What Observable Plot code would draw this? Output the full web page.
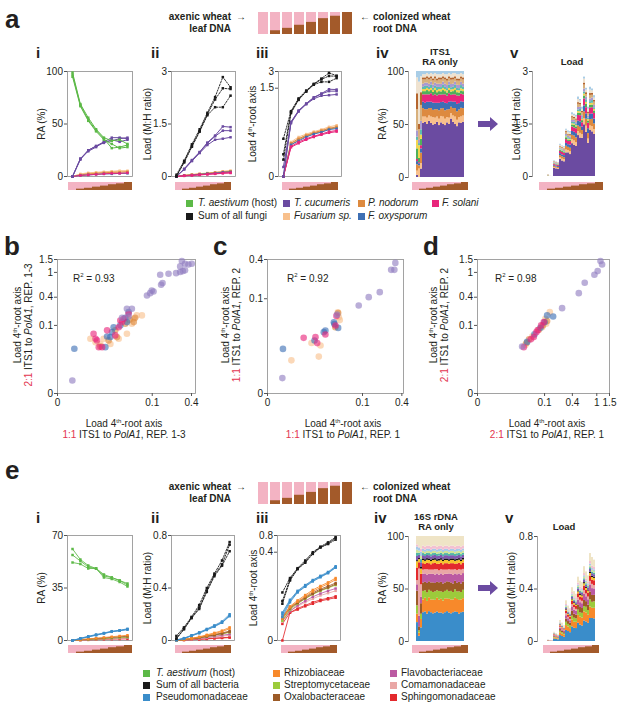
<!DOCTYPE html>
<html>
<head>
<meta charset="utf-8">
<script src="https://cdn.jsdelivr.net/npm/d3@7"></script>
<script src="https://cdn.jsdelivr.net/npm/@observablehq/plot@0.6"></script>
<style>
html,body{margin:0;padding:0;background:#fff;}
#root{position:relative;width:617px;height:703px;overflow:hidden;font-family:"Liberation Sans",Arial,Helvetica,sans-serif;color:#231f20;}
#root svg{position:absolute;overflow:visible;}
.tx{position:absolute;white-space:nowrap;line-height:1;}
.sq{position:absolute;width:7px;height:7px;}
.sup{font-size:6px;vertical-align:4px;}
.red{color:#e3344f;}
</style>
</head>
<body>
<div id="root"></div>
<script>
// ================= DATA =================
// DNA mixes (axenic leaf -> colonized root), fraction of root DNA
const mixSteps = [0, 1, 2, 3, 4, 5, 6, 7];
const mixBrown = [0, 0.17, 0.28, 0.42, 0.55, 0.72, 0.83, 1.0];

// ---- Panel a : fungi (3 replicates where visible) ----
const aHostRA = [[99, 69, 56, 45, 37, 34, 35, 31], [95, 67, 53, 43, 35, 31, 27, 28], [97, 68, 54, 44, 36, 27, 28, 30]];
const aCucRA = [[0, 17, 25, 29, 33, 37, 37, 36], [0, 17, 24, 28, 33, 34, 36, 37], [0, 16, 25, 29, 32, 35, 33, 35]];
const aFusRA = [[0, 2.5, 3.5, 4, 4.5, 5, 5.5, 5.5], [0, 2, 3, 3.5, 4, 4.5, 5, 5]];
const aNodRA = [[0, 1.5, 2.5, 3, 3.5, 4, 4, 4.5]];
const aOxyRA = [[0, 1, 1.5, 2, 2.5, 2.5, 3, 3]];
const aSolRA = [[0, 1, 1.5, 2, 2.5, 3, 3, 3.5]];

const aSumLoad = [[0.05, 0.45, 0.92, 1.35, 1.82, 2.27, 2.84, 2.55], [0.006, 0.42, 0.87, 1.3, 1.78, 2.2, 2.52, 2.5], [0.002, 0.4, 0.85, 1.28, 1.75, 1.98, 1.98, 2.31]];
const aCucLoad = [[0, 0.22, 0.47, 0.7, 0.97, 1.17, 1.43, 1.41], [0, 0.21, 0.45, 0.69, 0.95, 1.15, 1.31, 1.31], [0.0002, 0.2, 0.44, 0.67, 0.9, 1.05, 1.08, 1.12]];
const aFusLoad = [[0, 0.035, 0.06, 0.08, 0.1, 0.12, 0.15, 0.17], [0, 0.03, 0.05, 0.075, 0.09, 0.11, 0.14, 0.15]];
const aNodLoad = [[0, 0.03, 0.05, 0.07, 0.09, 0.11, 0.13, 0.15], [0, 0.025, 0.045, 0.065, 0.085, 0.1, 0.125, 0.14]];
const aOxyLoad = [[0, 0.025, 0.04, 0.06, 0.08, 0.095, 0.12, 0.13]];
const aSolLoad = [[0, 0.02, 0.035, 0.05, 0.065, 0.08, 0.1, 0.11], [0, 0.018, 0.03, 0.045, 0.06, 0.075, 0.09, 0.1]];

// a iv : ITS1 relative abundance, 24 samples (8 mixes x 3 reps)
const aIvCuc = [2, 0, 8, 51, 52, 50, 53, 51, 50, 50, 52, 49, 51, 50, 49, 51, 50, 54, 52, 50, 48, 51, 50, 52];
const aIvFus = [4, 8, 5, 6, 5, 6, 5, 6, 7, 6, 5, 6, 6, 7, 6, 5, 6, 5, 6, 7, 6, 5, 6, 6];
const aIvNod = [6, 3, 10, 8, 7, 8, 7, 8, 7, 8, 7, 8, 7, 8, 8, 7, 8, 6, 7, 8, 8, 7, 8, 7];
const aIvOxy = [3, 2, 4, 6, 6, 7, 6, 6, 7, 6, 6, 7, 6, 6, 7, 6, 7, 5, 6, 6, 7, 6, 6, 6];
const aIvSol = [2, 1, 3, 7, 8, 7, 7, 8, 7, 8, 7, 8, 7, 7, 8, 7, 8, 6, 7, 7, 8, 7, 7, 7];
const aIvOtherGreen = [10, 4, 6, 3, 3, 4, 3, 3, 3, 4, 3, 3, 3, 4, 3, 3, 3, 3, 3, 4, 3, 3, 3, 3];
const aIvOtherYellow = [8, 12, 4, 2, 2, 2, 2, 2, 2, 2, 2, 2, 2, 2, 2, 2, 2, 2, 2, 2, 2, 2, 2, 2];
const aIvOtherTeal = [3, 2, 5, 2, 3, 2, 2, 3, 2, 2, 3, 2, 2, 3, 2, 2, 3, 2, 2, 3, 2, 2, 3, 2];
const aIvOtherLav = [6, 3, 8, 3, 3, 3, 3, 3, 3, 3, 3, 3, 3, 3, 3, 3, 3, 3, 3, 3, 3, 3, 3, 3];
const aIvOtherTan = [20, 10, 15, 4, 3, 4, 4, 3, 4, 4, 3, 4, 4, 3, 4, 4, 3, 4, 4, 3, 4, 4, 3, 4];
const aIvOtherRust = [15, 5, 12, 2, 2, 2, 2, 2, 2, 2, 2, 2, 2, 2, 2, 2, 2, 2, 2, 2, 2, 2, 2, 2];
const aIvOtherBeige = [15, 40, 15, 3, 3, 3, 3, 3, 4, 3, 4, 3, 3, 3, 3, 4, 3, 3, 4, 3, 4, 4, 3, 3];
const aIvOtherBlue = [6, 10, 5, 3, 3, 2, 3, 2, 3, 2, 3, 3, 3, 2, 3, 3, 2, 3, 2, 2, 3, 3, 2, 3];

// ---- Panels b-d : load, ITS1 to PolA1 ratios [x, y] ----
const bCuc = [[0.00006, 0.00013], [0.0288, 0.24], [0.038, 0.24], [0.0317, 0.164], [0.0215, 0.153], [0.0795, 0.43], [0.0915, 0.472], [0.1056, 0.505], [0.098, 0.524], [0.143, 0.65], [0.151, 0.692], [0.138, 0.926], [0.1886, 0.957], [0.2456, 0.976], [0.281, 1.012], [0.306, 1.045], [0.328, 1.07], [0.281, 1.215], [0.2966, 1.432], [0.328, 1.32], [0.3645, 1.291], [0.403, 1.32]];
const bFus = [[0.00145, 0.042], [0.0026, 0.032], [0.0042, 0.028], [0.0097, 0.028], [0.0174, 0.042], [0.0288, 0.059], [0.042, 0.145], [0.049, 0.173], [0.063, 0.173], [0.038, 0.11], [0.0056, 0.042]];
const bNod = [[0.0042, 0.0227], [0.0085, 0.037], [0.0138, 0.074], [0.0262, 0.11], [0.0335, 0.1375], [0.042, 0.121], [0.045, 0.153], [0.0155, 0.047]];
const bOxy = [[0.0001, 0.0186], [0.0065, 0.0215], [0.0075, 0.049], [0.0109, 0.066], [0.0123, 0.09], [0.0193, 0.1], [0.0262, 0.153], [0.0288, 0.121], [0.0317, 0.204], [0.0097, 0.047]];
const bSol = [[0.0021, 0.059], [0.0026, 0.042], [0.003, 0.037], [0.0036, 0.0215], [0.0049, 0.0215], [0.0075, 0.074], [0.0138, 0.053], [0.0174, 0.09], [0.0215, 0.121], [0.0238, 0.145], [0.0317, 0.188], [0.0193, 0.132]];

const cCuc = [[0.00006, 0.00007], [0.085, 0.0743], [0.129, 0.107], [0.195, 0.131], [0.287, 0.29], [0.318, 0.29], [0.328, 0.361], [0.0288, 0.048]];
const cFus = [[0.0004, 0.0015], [0.0046, 0.0081], [0.0085, 0.0023], [0.0097, 0.0066], [0.0317, 0.042], [0.0335, 0.036], [0.03, 0.054]];
const cNod = [[0.026, 0.024], [0.0306, 0.052]];
const cOxy = [[0.00007, 0.0049], [0.0123, 0.0176], [0.0138, 0.0196], [0.006, 0.0098], [0.0238, 0.032], [0.0245, 0.029], [0.0306, 0.023]];
const cSol = [[0.0021, 0.0119], [0.0065, 0.0125], [0.0075, 0.008], [0.0138, 0.015], [0.0262, 0.0265], [0.0277, 0.045]];

const dCuc = [[1.13, 1.432], [1.19, 1.29], [1.03, 1.045], [0.923, 0.926], [0.653, 0.7], [0.52, 0.472], [0.253, 0.247], [0.0196, 0.0227]];
const dFus = [[0.026, 0.026], [0.086, 0.09], [0.135, 0.204], [0.105, 0.145], [0.045, 0.05], [0.11, 0.11]];
const dNod = [[0.0284, 0.03], [0.07, 0.0766], [0.116, 0.128], [0.035, 0.04], [0.09, 0.1]];
const dOxy = [[0.052, 0.0567], [0.0777, 0.087], [0.116, 0.173], [0.1616, 0.164], [0.1, 0.12], [0.03, 0.033]];
const dSol = [[0.0227, 0.0215], [0.0496, 0.047], [0.0596, 0.066], [0.081, 0.1], [0.0955, 0.121], [0.04, 0.04], [0.065, 0.075]];

// ---- Panel e : bacteria ----
const eHostRA = [[61, 54, 50, 48, 44, 42, 40, 38], [57, 53, 49, 48, 43, 42, 40, 37], [52, 51, 48, 48, 42, 41, 39, 36]];
const ePseudoRA = [[0, 1.5, 2.8, 4, 5, 6.2, 6.8, 7.8], [0, 1.3, 2.5, 3.7, 4.8, 6, 6.5, 7.5], [0, 1.2, 2.4, 3.5, 4.6, 5.8, 6.6, 7.2]];
const eRhizoRA = [[0, 0.6, 1.1, 1.5, 2, 2.5, 3, 3.5]];
const eStrepRA = [[0, 0.4, 0.7, 1, 1.3, 1.6, 1.9, 2.2]];
const eOxaloRA = [[0, 0.5, 0.9, 1.3, 1.7, 2.1, 2.5, 2.8]];
const eFlavoRA = [[0, 0.4, 0.7, 1, 1.3, 1.5, 1.8, 2]];
const eComamRA = [[0, 0.3, 0.6, 0.9, 1.1, 1.4, 1.6, 1.8]];
const eSphingoRA = [[0, 0.2, 0.4, 0.6, 0.8, 0.9, 1, 1.1]];

const eSumLoad = [[0.035, 0.1, 0.18, 0.27, 0.4, 0.51, 0.61, 0.75], [0.016, 0.09, 0.175, 0.25, 0.38, 0.5, 0.58, 0.73], [0.012, 0.085, 0.17, 0.24, 0.37, 0.49, 0.57, 0.68]];
const ePseudoLoad = [[0.004, 0.018, 0.04, 0.062, 0.088, 0.115, 0.145, 0.2], [0.003, 0.016, 0.037, 0.058, 0.084, 0.11, 0.138, 0.19], [0.002, 0.014, 0.035, 0.055, 0.08, 0.105, 0.135, 0.185]];
const eRhizoLoad = [[0.002, 0.009, 0.017, 0.028, 0.043, 0.058, 0.075, 0.1], [0.0015, 0.008, 0.015, 0.025, 0.038, 0.052, 0.068, 0.09]];
const eStrepLoad = [[0.001, 0.006, 0.012, 0.02, 0.03, 0.04, 0.05, 0.062]];
const eOxaloLoad = [[0.002, 0.008, 0.014, 0.023, 0.034, 0.046, 0.057, 0.072], [0.0015, 0.007, 0.013, 0.021, 0.031, 0.042, 0.052, 0.066]];
const eFlavoLoad = [[0.001, 0.005, 0.01, 0.016, 0.024, 0.032, 0.04, 0.048]];
const eComamLoad = [[0.0008, 0.005, 0.009, 0.014, 0.02, 0.027, 0.033, 0.04]];
const eSphingoLoad = [[0, 0.004, 0.007, 0.01, 0.014, 0.018, 0.021, 0.025], [0.0005, 0.004, 0.006, 0.009, 0.012, 0.016, 0.019, 0.022]];

// e iv : 16S relative abundance, 24 samples
const eIvPseudo = [18, 5, 13, 27, 28, 26, 28, 27, 26, 27, 28, 26, 27, 26, 27, 28, 27, 26, 27, 28, 27, 26, 27, 28];
const eIvRhizo = [8, 3, 8, 12, 13, 12, 13, 12, 13, 12, 13, 12, 13, 12, 13, 12, 13, 13, 12, 13, 12, 13, 12, 13];
const eIvStrep = [8, 2, 5, 8, 7, 8, 7, 8, 7, 8, 7, 8, 7, 8, 7, 8, 7, 8, 7, 8, 7, 8, 7, 8];
const eIvOxalo = [14, 4, 10, 8, 8, 9, 8, 8, 9, 8, 8, 8, 9, 8, 8, 8, 9, 8, 8, 8, 8, 9, 8, 8];
const eIvFlavo = [6, 10, 6, 8, 8, 8, 7, 8, 8, 8, 8, 7, 8, 8, 8, 7, 8, 8, 8, 7, 8, 8, 8, 8];
const eIvComam = [4, 45, 12, 4, 4, 5, 4, 4, 4, 5, 4, 4, 4, 5, 4, 4, 4, 4, 5, 4, 4, 4, 5, 4];
const eIvSphingo = [12, 6, 10, 6, 5, 6, 6, 5, 6, 6, 5, 6, 6, 5, 6, 6, 5, 6, 6, 5, 6, 6, 5, 6];
const eIvOtherYellow = [6, 3, 5, 3, 3, 3, 3, 3, 3, 3, 3, 3, 3, 3, 3, 3, 3, 3, 3, 3, 3, 3, 3, 3];
const eIvOtherBlack = [1, 1, 2, 1.5, 1.5, 1.5, 1.5, 1.5, 1.5, 1.5, 1.5, 1.5, 1.5, 1.5, 1.5, 1.5, 1.5, 1.5, 1.5, 1.5, 1.5, 1.5, 1.5, 1.5];
const eIvOtherPurple = [4, 3, 4, 3, 3, 3, 3, 3, 3, 3, 3, 3, 3, 3, 3, 3, 3, 3, 3, 3, 3, 3, 3, 3];
const eIvOtherTeal = [3, 2, 3, 2, 2, 2, 2, 2, 2, 2, 2, 2, 2, 2, 2, 2, 2, 2, 2, 2, 2, 2, 2, 2];
const eIvOtherLime = [3, 2, 3, 2, 2, 2, 2, 2, 2, 2, 2, 2, 2, 2, 2, 2, 2, 2, 2, 2, 2, 2, 2, 2];
const eIvOtherBlue = [3, 3, 4, 2, 2, 2, 2, 2, 2, 2, 2, 2, 2, 2, 2, 2, 2, 2, 2, 2, 2, 2, 2, 2];
const eIvOtherPink = [2, 1, 3, 3, 3, 3, 3, 3, 3, 3, 3, 3, 3, 3, 3, 3, 3, 3, 3, 3, 3, 3, 3, 3];
const eIvOtherBeige = [8, 10, 12, 9, 10, 9, 9, 10, 9, 9, 10, 9, 9, 10, 9, 9, 10, 9, 9, 10, 9, 9, 10, 9];
// e v : stacked load totals per replicate (8 mixes)
const eStackTotal = [[0.01, 0.07, 0.16, 0.31, 0.41, 0.49, 0.57, 0.67], [0.008, 0.06, 0.14, 0.27, 0.38, 0.46, 0.53, 0.64], [0.005, 0.05, 0.12, 0.25, 0.36, 0.45, 0.5, 0.62]];

// ================= COLOURS =================
const pinkDNA = "#f3b3c3", brownDNA = "#a35a2a";
const colHost = "#5cb947", colSum = "#1a1a1a", colCuc = "#6b4ba1", colFus = "#f8c08c",
      colNod = "#dd8a3f", colOxy = "#3d6fb4", colSol = "#e8257b";
const colPseudo = "#3a8dca", colRhizo = "#f7892b", colStrep = "#9ccb3b", colOxalo = "#9c5b27",
      colFlavo = "#bb5aa2", colComam = "#e9a7a6", colSphingo = "#e3292d";
const FONT = '"Liberation Sans", Arial, Helvetica, sans-serif';

// ================= HELPERS =================
const root = document.getElementById("root");
function put(svg, x, y) { svg.style.left = x + "px"; svg.style.top = y + "px"; root.appendChild(svg); }
function T(html, x, y, o = {}) {
  const d = document.createElement("div");
  d.className = "tx";
  d.innerHTML = html;
  d.style.left = x + "px"; d.style.top = y + "px";
  d.style.fontSize = (o.size || 10) + "px";
  d.style.fontWeight = o.weight || "normal";
  if (o.family) d.style.fontFamily = o.family;
  if (o.color) d.style.color = o.color;
  const tx = o.anchor === "middle" ? "-50%" : o.anchor === "end" ? "-100%" : "0";
  d.style.transform = o.rotate ? "translate(-50%,-50%) rotate(-90deg)" : `translate(${tx},-50%)`;
  root.appendChild(d);
}
function SQ(color, x, y) {
  const d = document.createElement("div");
  d.className = "sq"; d.style.background = color;
  d.style.left = x + "px"; d.style.top = (y - 3.5) + "px";
  root.appendChild(d);
}
const baseStyle = { fontFamily: FONT, fontSize: "10px", color: "#231f20", background: "none", overflow: "visible" };
const fmt = d => String(d);

function linePlot(f, yType, yDomain, yTicks, groups) {
  const ml = 30, mr = 2, mt = 6, mb = 4;
  const marks = [Plot.frame({ stroke: "#8c8c8c", strokeWidth: 0.8 })];
  for (const g of groups) for (const rep of g.reps) {
    const pts = rep.map((v, i) => ({ i: mixSteps[i], v }));
    marks.push(Plot.line(pts, { x: "i", y: "v", stroke: g.color, strokeWidth: g.dash ? 0.9 : 1, strokeDasharray: g.dash ? "1.6,1.4" : null, strokeOpacity: g.op ?? 1 }));
    marks.push(Plot.dot(pts, { x: "i", y: "v", fill: g.color, r: 1.4, symbol: "square" }));
  }
  marks.push(Plot.axisY({ ticks: yTicks, tickSize: 3, tickPadding: 1.5, label: null, tickFormat: fmt, stroke: "#555" }));
  const p = Plot.plot({
    width: ml + f.w + mr, height: mt + f.h + mb, marginLeft: ml, marginRight: mr, marginTop: mt, marginBottom: mb,
    style: baseStyle,
    x: { domain: [-0.64, 7.64], axis: null },
    y: yType === "pow" ? { type: "pow", exponent: 0.25, domain: yDomain, axis: null } : { domain: yDomain, axis: null },
    marks
  });
  put(p, f.l - ml, f.t - mt);
}

function strip(l, t, w) {
  const p = Plot.plot({
    width: w, height: 8, margin: 0, style: baseStyle,
    x: { type: "band", domain: mixSteps, padding: 0.06, axis: null },
    y: { domain: [0, 1], axis: null },
    marks: [
      Plot.barY(mixSteps, { x: d => d, y1: () => 0, y2: () => 1, fill: pinkDNA }),
      Plot.barY(mixSteps, { x: d => d, y1: () => 0, y2: d => mixBrown[d], fill: brownDNA })
    ]
  });
  put(p, l, t);
}

function header(l, t) {
  const p = Plot.plot({
    width: 104, height: 22, margin: 0, style: baseStyle,
    x: { type: "band", domain: mixSteps, padding: 0.2, axis: null },
    y: { domain: [0, 1], axis: null },
    marks: [
      Plot.barY(mixSteps, { x: d => d, y1: () => 0, y2: () => 1, fill: pinkDNA }),
      Plot.barY(mixSteps, { x: d => d, y1: () => 0, y2: d => mixBrown[d], fill: brownDNA })
    ]
  });
  put(p, l, t);
}

// stacked composition: taxa = [{vals, color}], totals: null (RA, normalized) or array per bar
function stackPlot(f, taxa, yDomain, yTicks, yFmt, totals, insetL) {
  const ml = 30, mr = 2, mt = 6, mb = 4;
  const nBars = taxa[0].vals.length;
  const bars = d3.range(nBars);
  const sums = bars.map(j => d3.sum(taxa, t => t.vals[j]));
  const rows = [];
  for (const j of bars) for (const t of taxa) {
    const frac = t.vals[j] / sums[j];
    rows.push({ bar: j, v: totals ? frac * totals[j] : frac, c: t.color });
  }
  const p = Plot.plot({
    width: ml + f.w + mr, height: mt + f.h + mb, marginLeft: ml, marginRight: mr, marginTop: mt, marginBottom: mb,
    style: baseStyle,
    x: { type: "band", domain: bars, padding: 0, axis: null, insetLeft: insetL || 0 },
    y: { domain: yDomain, axis: null },
    color: { type: "identity" },
    marks: [
      Plot.barY(rows, Plot.stackY({ x: "bar", y: "v", fill: "c", inset: 0 })),
      Plot.frame({ anchor: "left", stroke: "#8c8c8c", strokeWidth: 0.8 }),
      Plot.axisY({ ticks: yTicks, tickSize: 3, tickPadding: 1.5, label: null, tickFormat: yFmt, stroke: "#555" })
    ]
  });
  put(p, f.l - ml, f.t - mt);
}

function scatter(f, xDomain, xTicks, yDomain, yTicks, groups) {
  const ml = 30, mr = 10, mt = 6, mb = 18;
  const marks = [Plot.frame({ stroke: "#8c8c8c", strokeWidth: 0.8 })];
  for (const g of groups) marks.push(Plot.dot(g.pts, { x: d => d[0], y: d => d[1], r: 3.3, fill: g.color, fillOpacity: 0.62 }));
  marks.push(Plot.axisY({ ticks: yTicks, tickSize: 3, tickPadding: 1.5, label: null, tickFormat: fmt, stroke: "#555" }));
  marks.push(Plot.axisX({ ticks: xTicks, tickSize: 3, tickPadding: 2, label: null, tickFormat: fmt, stroke: "#555" }));
  const p = Plot.plot({
    width: ml + f.w + mr, height: mt + f.h + mb, marginLeft: ml, marginRight: mr, marginTop: mt, marginBottom: mb,
    style: baseStyle,
    x: { type: "pow", exponent: 0.25, domain: xDomain, axis: null },
    y: { type: "pow", exponent: 0.25, domain: yDomain, axis: null },
    marks
  });
  put(p, f.l - ml, f.t - mt);
}

function arrow(x, cy) {
  const ns = "http://www.w3.org/2000/svg";
  const s = document.createElementNS(ns, "svg");
  s.setAttribute("width", 20); s.setAttribute("height", 14);
  const poly = document.createElementNS(ns, "polygon");
  poly.setAttribute("points", "0,4 12,4 12,0 20,7 12,14 12,10 0,10");
  poly.setAttribute("fill", "#6b4ba1");
  s.appendChild(poly);
  put(s, x, cy - 7);
}

// ================= BUILD =================
const NARROW = '"Liberation Sans Narrow", "Liberation Sans", Arial, sans-serif';
const lab4 = 'Load 4<span class="sup">th</span>-root axis';

// ---------- Panel a ----------
T("a", 5, 19, { size: 26, weight: "bold" });
header(253, 12);
T("axenic wheat", 231, 17, { anchor: "end", size: 10, weight: "bold", family: NARROW });
T("leaf DNA", 231, 29, { anchor: "end", size: 10, weight: "bold", family: NARROW });
T("→", 236, 17, { size: 10 });
T("←", 360, 17, { size: 10 });
T("colonized wheat", 373, 17, { size: 10, weight: "bold", family: NARROW });
T("root DNA", 373, 29, { size: 10, weight: "bold", family: NARROW });

const numA = 52;
T("i", 36, numA, { size: 15, weight: "bold", family: NARROW });
T("ii", 151, numA, { size: 15, weight: "bold", family: NARROW });
T("iii", 256, numA, { size: 15, weight: "bold", family: NARROW });
T("iv", 376, numA, { size: 15, weight: "bold", family: NARROW });
T("v", 510, numA, { size: 15, weight: "bold", family: NARROW });
T("ITS1", 440, 52, { anchor: "middle", size: 9.5, weight: "bold" });
T("RA only", 440, 62, { anchor: "middle", size: 9.5, weight: "bold" });
T("Load", 572, 62, { anchor: "middle", size: 9.5, weight: "bold" });

const fungiRA = [
  { reps: aFusRA, color: colFus }, { reps: aNodRA, color: colNod }, { reps: aOxyRA, color: colOxy }, { reps: aSolRA, color: colSol },
  { reps: aCucRA, color: colCuc }, { reps: aHostRA, color: colHost }
];
const fungiLoad = [
  { reps: aFusLoad, color: colFus }, { reps: aNodLoad, color: colNod }, { reps: aOxyLoad, color: colOxy }, { reps: aSolLoad, color: colSol },
  { reps: aCucLoad, color: colCuc }, { reps: aSumLoad, color: colSum, dash: true }
];
linePlot({ l: 67, t: 71, w: 65, h: 105 }, "linear", [0, 100], [0, 50, 100], fungiRA);
linePlot({ l: 171, t: 71, w: 64, h: 105 }, "linear", [0, 3], [0, 1.5, 3], fungiLoad);
linePlot({ l: 278, t: 71, w: 63, h: 105 }, "pow", [0, 3], [0, 1.5, 3], fungiLoad);
T("RA (%)", 42, 124, { rotate: true, size: 10 });
T("Load (M:H ratio)", 148, 124, { rotate: true, size: 10 });
T(lab4, 252, 124, { rotate: true, size: 10 });

const fungiTaxa = [
  { vals: aIvCuc, color: colCuc }, { vals: aIvFus, color: colFus }, { vals: aIvNod, color: colNod },
  { vals: aIvOxy, color: colOxy }, { vals: aIvSol, color: colSol }, { vals: aIvOtherGreen, color: "#4fb05a" },
  { vals: aIvOtherYellow, color: "#f2d54f" }, { vals: aIvOtherTeal, color: "#5cbcb0" }, { vals: aIvOtherLav, color: "#a99ad0" },
  { vals: aIvOtherTan, color: "#d8b07c" }, { vals: aIvOtherRust, color: "#b5652e" }, { vals: aIvOtherBeige, color: "#efe2cf" },
  { vals: aIvOtherBlue, color: "#a9cde6" }
];
stackPlot({ l: 408, t: 71, w: 64, h: 106 }, fungiTaxa, [0, 1], [0, 0.5, 1], d => String(Math.round(d * 100)), null, 0);
const aTotals = d3.range(24).map(j => aSumLoad[j % 3][Math.floor(j / 3)]);
stackPlot({ l: 532, t: 71, w: 71, h: 105 }, fungiTaxa, [0, 3], [0, 1.5, 3], fmt, aTotals, 7);
T("RA (%)", 383, 124, { rotate: true, size: 10 });
T("Load (M:H ratio)", 517, 124, { rotate: true, size: 10 });
arrow(478, 124);

strip(67, 182, 65); strip(171, 182, 64); strip(278, 182, 63); strip(408, 182, 64); strip(538, 182, 65);

// legend a
SQ(colHost, 186, 203); T("<i>T. aestivum</i> (host)", 198, 203, { size: 10 });
SQ(colSum, 186, 216); T("Sum of all fungi", 198, 216, { size: 10 });
SQ(colCuc, 283, 203); T("<i>T. cucumeris</i>", 294, 203, { size: 10 });
SQ(colFus, 283, 216); T("<i>Fusarium sp.</i>", 294, 216, { size: 10 });
SQ(colNod, 358, 203); T("<i>P. nodorum</i>", 368, 203, { size: 10 });
SQ(colOxy, 358, 216); T("<i>F. oxysporum</i>", 368, 216, { size: 10 });
SQ(colSol, 432, 203); T("<i>F. solani</i>", 442, 203, { size: 10 });

// ---------- Panels b, c, d ----------
T("b", 4, 246, { size: 26, weight: "bold" });
T("c", 213, 246, { size: 26, weight: "bold" });
T("d", 423, 246, { size: 26, weight: "bold" });

scatter({ l: 57, t: 259, w: 138, h: 134 }, [0, 0.45], [0, 0.1, 0.4], [0, 1.5], [0, 0.1, 0.4, 1, 1.5],
  [{ pts: bFus, color: colFus }, { pts: bNod, color: colNod }, { pts: bOxy, color: colOxy }, { pts: bSol, color: colSol }, { pts: bCuc, color: "#8f7cc0" }]);
scatter({ l: 267, t: 259, w: 136, h: 134 }, [0, 0.42], [0, 0.1, 0.4], [0, 0.4], [0, 0.1, 0.4],
  [{ pts: cFus, color: colFus }, { pts: cNod, color: colNod }, { pts: cOxy, color: colOxy }, { pts: cSol, color: colSol }, { pts: cCuc, color: "#8f7cc0" }]);
scatter({ l: 477, t: 259, w: 132, h: 134 }, [0, 1.5], [0, 0.1, 0.4, 1, 1.5], [0, 1.5], [0, 0.1, 0.4, 1, 1.5],
  [{ pts: dFus, color: colFus }, { pts: dNod, color: colNod }, { pts: dOxy, color: colOxy }, { pts: dSol, color: colSol }, { pts: dCuc, color: "#8f7cc0" }]);

T("R<sup style='font-size:6px'>2</sup> = 0.93", 73, 278, { size: 10 });
T("R<sup style='font-size:6px'>2</sup> = 0.92", 287, 278, { size: 10 });
T("R<sup style='font-size:6px'>2</sup> = 0.98", 495, 278, { size: 10 });

T(lab4, 17, 325, { rotate: true, size: 10 });
T('<span class="red">2:1</span> ITS1 to <i>PolA1</i>,  REP. 1-3', 29, 325, { rotate: true, size: 10 });
T(lab4, 225, 325, { rotate: true, size: 10 });
T('<span class="red">1:1</span> ITS1 to <i>PolA1</i>, REP. 2', 237, 325, { rotate: true, size: 10 });
T(lab4, 433, 325, { rotate: true, size: 10 });
T('<span class="red">2:1</span> ITS1 to <i>PolA1</i>,  REP. 2', 445, 325, { rotate: true, size: 10 });

T(lab4, 124, 423, { anchor: "middle", size: 10 });
T('<span class="red">1:1</span> ITS1 to <i>PolA1</i>, REP. 1-3', 124, 435, { anchor: "middle", size: 10 });
T(lab4, 343, 423, { anchor: "middle", size: 10 });
T('<span class="red">1:1</span> ITS1 to <i>PolA1</i>, REP. 1', 343, 435, { anchor: "middle", size: 10 });
T(lab4, 547, 423, { anchor: "middle", size: 10 });
T('<span class="red">2:1</span> ITS1 to <i>PolA1</i>,  REP. 1', 547, 435, { anchor: "middle", size: 10 });

// ---------- Panel e ----------
T("e", 5, 470, { size: 26, weight: "bold" });
header(253, 482);
T("axenic wheat", 231, 487, { anchor: "end", size: 10, weight: "bold", family: NARROW });
T("leaf DNA", 231, 499, { anchor: "end", size: 10, weight: "bold", family: NARROW });
T("→", 236, 487, { size: 10 });
T("←", 360, 487, { size: 10 });
T("colonized wheat", 373, 487, { size: 10, weight: "bold", family: NARROW });
T("root DNA", 373, 499, { size: 10, weight: "bold", family: NARROW });

const numE = 517;
T("i", 36, numE, { size: 15, weight: "bold", family: NARROW });
T("ii", 151, numE, { size: 15, weight: "bold", family: NARROW });
T("iii", 256, numE, { size: 15, weight: "bold", family: NARROW });
T("iv", 374, numE, { size: 15, weight: "bold", family: NARROW });
T("v", 505, numE, { size: 15, weight: "bold", family: NARROW });
T("16S rDNA", 436, 517, { anchor: "middle", size: 9.5, weight: "bold" });
T("RA only", 436, 527, { anchor: "middle", size: 9.5, weight: "bold" });
T("Load", 564, 527, { anchor: "middle", size: 9.5, weight: "bold" });

const bactRA = [
  { reps: eSphingoRA, color: colSphingo, op: 0.85 }, { reps: eComamRA, color: colComam, op: 0.85 }, { reps: eFlavoRA, color: colFlavo, op: 0.85 },
  { reps: eStrepRA, color: colStrep, op: 0.85 }, { reps: eOxaloRA, color: colOxalo, op: 0.85 }, { reps: eRhizoRA, color: colRhizo, op: 0.85 },
  { reps: ePseudoRA, color: colPseudo, op: 0.85 }, { reps: eHostRA, color: colHost, op: 0.85 }
];
const bactLoad = [
  { reps: eSphingoLoad, color: colSphingo, op: 0.85 }, { reps: eComamLoad, color: colComam, op: 0.85 }, { reps: eFlavoLoad, color: colFlavo, op: 0.85 },
  { reps: eStrepLoad, color: colStrep, op: 0.85 }, { reps: eOxaloLoad, color: colOxalo, op: 0.85 }, { reps: eRhizoLoad, color: colRhizo, op: 0.85 },
  { reps: ePseudoLoad, color: colPseudo, op: 0.85 }, { reps: eSumLoad, color: colSum, dash: true }
];
linePlot({ l: 67, t: 535, w: 65, h: 105 }, "linear", [0, 70], [0, 35, 70], bactRA);
linePlot({ l: 171, t: 535, w: 63, h: 105 }, "linear", [0, 0.8], [0, 0.4, 0.8], bactLoad);
linePlot({ l: 277, t: 535, w: 63, h: 105 }, "pow", [0, 0.8], [0, 0.4, 0.8], bactLoad);
T("RA (%)", 42, 588, { rotate: true, size: 10 });
T("Load (M:H ratio)", 148, 588, { rotate: true, size: 10 });
T(lab4, 253, 588, { rotate: true, size: 10 });

const bactTaxa = [
  { vals: eIvPseudo, color: colPseudo }, { vals: eIvRhizo, color: colRhizo }, { vals: eIvStrep, color: colStrep },
  { vals: eIvOxalo, color: colOxalo }, { vals: eIvFlavo, color: colFlavo }, { vals: eIvComam, color: colComam },
  { vals: eIvSphingo, color: colSphingo }, { vals: eIvOtherYellow, color: "#f6c230" }, { vals: eIvOtherBlack, color: "#111111" },
  { vals: eIvOtherPurple, color: "#7f58b0" }, { vals: eIvOtherTeal, color: "#52b6a7" }, { vals: eIvOtherLime, color: "#cfe59a" },
  { vals: eIvOtherBlue, color: "#a6cbe8" }, { vals: eIvOtherPink, color: "#f3c0d2" }, { vals: eIvOtherBeige, color: "#efe4c6" }
];
stackPlot({ l: 408, t: 536, w: 64, h: 105 }, bactTaxa, [0, 1], [0, 0.5, 1], d => String(Math.round(d * 100)), null, 0);
const eTotals = d3.range(24).map(j => eStackTotal[j % 3][Math.floor(j / 3)]);
stackPlot({ l: 537, t: 536, w: 66, h: 105 }, bactTaxa, [0, 0.8], [0, 0.4, 0.8], fmt, eTotals, 1);
T("RA (%)", 383, 588, { rotate: true, size: 10 });
T("Load (M:H ratio)", 512, 588, { rotate: true, size: 10 });
arrow(478, 588);

strip(67, 645, 65); strip(171, 645, 63); strip(277, 645, 63); strip(408, 645, 64); strip(539, 645, 64);

// legend e
SQ(colHost, 143, 673); T("<i>T. aestivum</i> (host)", 156, 673, { size: 10 });
SQ(colSum, 143, 685); T("Sum of all bacteria", 156, 685, { size: 10 });
SQ(colPseudo, 143, 697); T("Pseudomonadaceae", 156, 697, { size: 10 });
SQ(colRhizo, 273, 673); T("Rhizobiaceae", 284, 673, { size: 10 });
SQ(colStrep, 273, 685); T("Streptomycetaceae", 284, 685, { size: 10 });
SQ(colOxalo, 273, 697); T("Oxalobacteraceae", 284, 697, { size: 10 });
SQ(colFlavo, 390, 673); T("Flavobacteriaceae", 401, 673, { size: 10 });
SQ(colComam, 390, 685); T("Comamonadaceae", 401, 685, { size: 10 });
SQ(colSphingo, 390, 697); T("Sphingomonadaceae", 401, 697, { size: 10 });
</script>
</body>
</html>
